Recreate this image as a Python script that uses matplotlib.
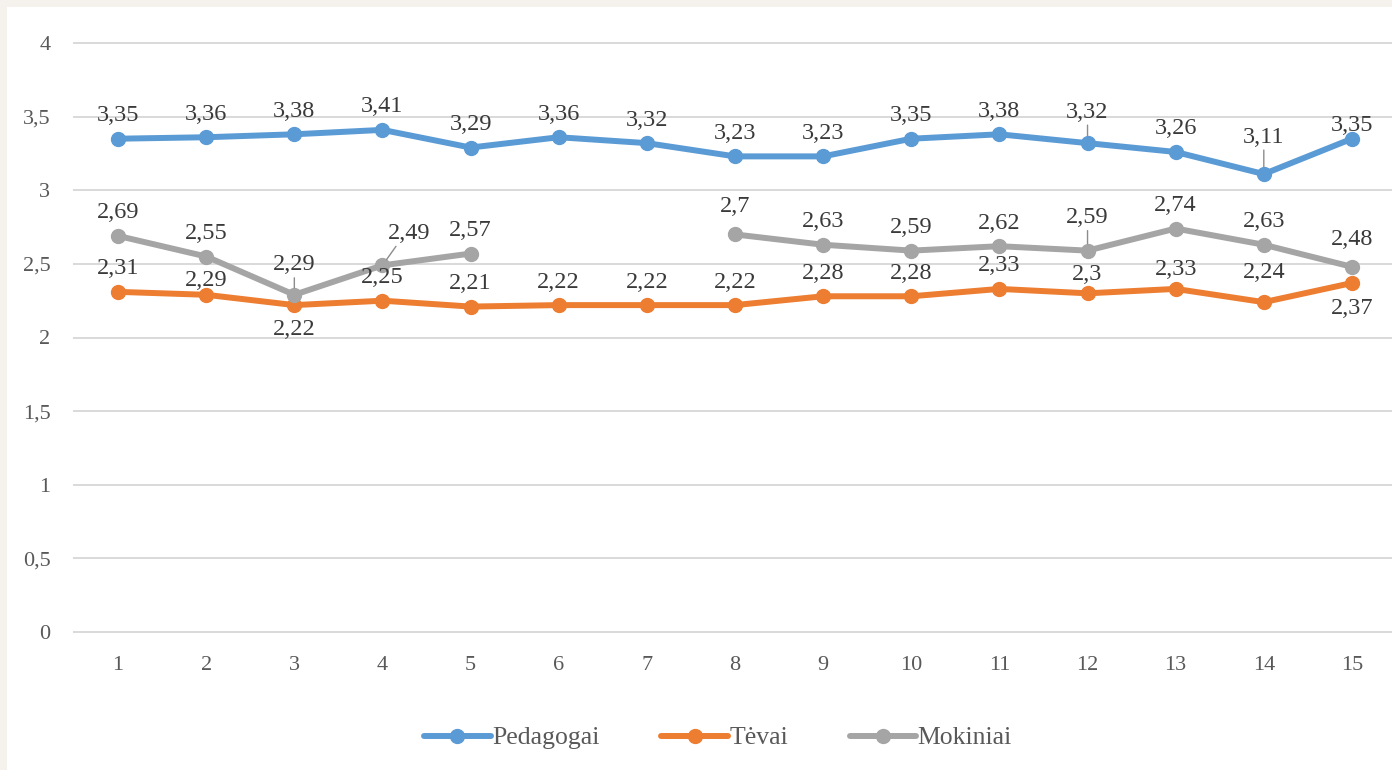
import numpy as np
import matplotlib.pyplot as plt
from matplotlib.patches import Rectangle

# data
x = np.arange(1, 16)
pedagogai = [3.35, 3.36, 3.38, 3.41, 3.29, 3.36, 3.32, 3.23, 3.23, 3.35, 3.38, 3.32, 3.26, 3.11, 3.35]
tevai = [2.31, 2.29, 2.22, 2.25, 2.21, 2.22, 2.22, 2.22, 2.28, 2.28, 2.33, 2.3, 2.33, 2.24, 2.37]
mokiniai = [2.69, 2.55, 2.29, 2.49, 2.57, np.nan, np.nan, 2.7, 2.63, 2.59, 2.62, 2.59, 2.74, 2.63, 2.48]

plt.rcParams['font.family'] = ['Liberation Serif', 'DejaVu Serif']

fig = plt.figure(figsize=(13.92, 7.70), dpi=100)
fig.patch.set_facecolor('#f5f2ee')
# white panel inside the thin beige border
fig.patches.append(Rectangle((7 / 1392, 0), 1, 1 - 7 / 770, transform=fig.transFigure,
                             facecolor='white', edgecolor='none', zorder=-10))

ax = fig.add_axes([74 / 1392, 138 / 770, 1322 / 1392, 589 / 770])
ax.set_facecolor('none')

series = [
    ('Pedagogai', pedagogai, '#5b9bd5'),
    ('Tėvai', tevai, '#ed7d31'),
    ('Mokiniai', mokiniai, '#a5a5a5'),
]
for name, vals, col in series:
    ax.plot(x, vals, color=col, lw=4.3, marker='o', ms=10, label=name,
            solid_capstyle='round', clip_on=False, zorder=3)

# label offsets in pixels (dx, dy); default sits above the point
offsets = {
    'Pedagogai': {12: (0, 31), 14: (0, 37), 15: (0, 13)},
    'Tėvai': {2: (0, 14), 3: (0, -24), 12: (0, 19), 13: (0, 19), 14: (0, 30), 15: (0, -25)},
    'Mokiniai': {3: (0, 30), 4: (27, 32), 8: (0, 28), 12: (0, 33), 15: (0, 27)},
}
leaders = {('Pedagogai', 12), ('Pedagogai', 14), ('Mokiniai', 3), ('Mokiniai', 4), ('Mokiniai', 12)}

for name, vals, col in series:
    for xi, v in zip(x, vals):
        if np.isnan(v):
            continue
        dx, dy = offsets[name].get(xi, (0, 23))
        txt = f'{v:g}'.replace('.', ',')
        ax.annotate(txt, (xi, v), xytext=(dx, dy), textcoords='offset pixels',
                    ha='center', va='center', fontsize=17.5, color='#3a3a3a', zorder=5)
        if (name, xi) in leaders:
            ax.annotate('', (xi, v), xytext=(dx * 0.5, dy - 13), textcoords='offset pixels',
                        arrowprops=dict(arrowstyle='-', color='#8c8c8c', lw=1,
                                        shrinkA=0, shrinkB=5), zorder=4)

ax.set_xlim(0.5, 15.5)
ax.set_ylim(0, 4)
ax.set_xticks(x)
ax.set_yticks(np.arange(0, 4.01, 0.5))
ax.set_yticklabels([f'{t:g}'.replace('.', ',') for t in np.arange(0, 4.01, 0.5)])
ax.tick_params(length=0, labelsize=16, labelcolor='#595959')
ax.tick_params(axis='x', pad=17)
ax.tick_params(axis='y', pad=17)
ax.grid(axis='y', color='#d9d9d9', lw=1.4, clip_on=False)
ax.set_axisbelow(True)
for s in ax.spines.values():
    s.set_visible(False)
for gl in ax.get_ygridlines():
    gl.set_clip_on(False)

fig.legend(loc='center', bbox_to_anchor=(718 / 1392, 1 - 738 / 770), ncol=3, frameon=False,
           fontsize=18.5, handlelength=2.6, handletextpad=0.05, columnspacing=2.4,
           labelcolor='#595959')

fig.savefig('out.png', dpi=100, facecolor=fig.get_facecolor())
